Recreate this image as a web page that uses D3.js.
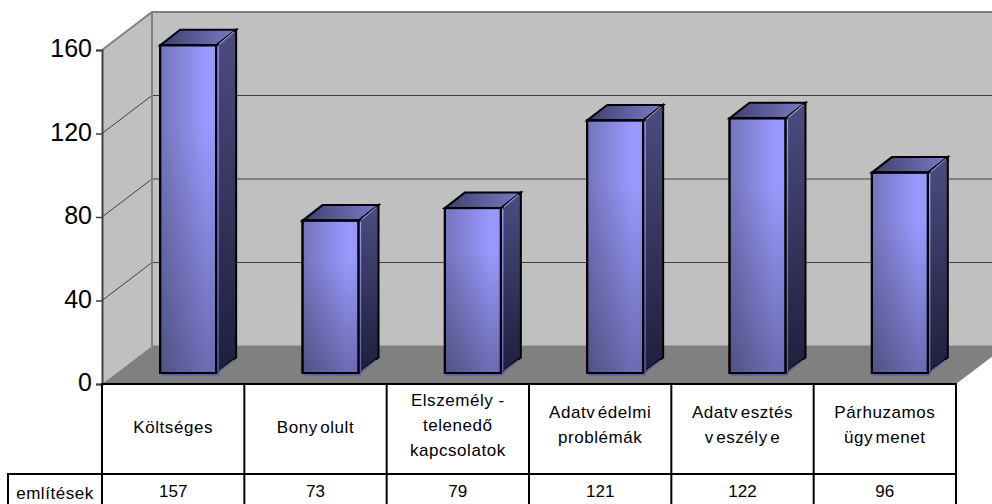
<!DOCTYPE html>
<html><head><meta charset="utf-8">
<script src="https://cdn.jsdelivr.net/npm/d3@7"></script>
<style>html,body{margin:0;padding:0;background:#fff}svg{display:block}text{font-family:"Liberation Sans",Arial,sans-serif;fill:#000}</style>
</head><body>
<svg id="c" width="992" height="504"></svg>
<script>
const categories = [
  ["Költséges"],
  ["Bonyolult"],
  ["Elszemély -", "telenedő", "kapcsolatok"],
  ["Adatvédelmi", "problémák"],
  ["Adatvesztés", "veszélye"],
  ["Párhuzamos", "ügymenet"]
];
const values = [157, 73, 79, 121, 122, 96];
const seriesName = "említések";
const yTicks = [0, 40, 80, 120, 160];

const svg = d3.select("#c");
const W = 992;
const x0 = 102, x1 = 956, y0 = 384, yTop = 50;
const depthX = 50, depthY = 38;
const x = d3.scaleBand().domain(d3.range(values.length)).range([x0, x1]);
const y = d3.scaleLinear().domain([0, 160]).range([y0, yTop]);
const pts = p => p.map(d => d.join(",")).join(" ");
const defs = svg.append("defs");

function grad(id, stops, x2, y2) {
  const g = defs.append("linearGradient").attr("id", id)
    .attr("x1", 0).attr("y1", 0).attr("x2", x2).attr("y2", y2);
  stops.forEach(s => g.append("stop").attr("offset", s[0]).attr("stop-color", s[1]).attr("stop-opacity", s[2] === undefined ? 1 : s[2]));
}
grad("front", [[0, "#7474bb"], [0.82, "#9999ff"], [1, "#9696fa"]], 1, 0);
grad("shade", [[0, "#000", 0], [0.25, "#000", 0], [1, "#000", 0.3]], 0, 1);
grad("side", [[0, "#4c4c80"], [1, "#1e1e3c"]], 0, 1);
grad("top", [[0, "#3f3f6c"], [1, "#7b7bc8"]], 1, 0);
grad("rim", [[0, "#9999ff"], [1, "#5c5cb0"]], 0, 1);
defs.append("clipPath").attr("id", "view").append("rect").attr("width", W).attr("height", 504);

const plot = svg.append("g").attr("clip-path", "url(#view)");

// walls and floor
plot.append("polygon").attr("fill", "#c0c0c0")
  .attr("points", pts([[x0, y(160)], [x0 + depthX, y(160) - depthY], [W, y(160) - depthY], [W, y0 - depthY], [x0 + depthX, y0 - depthY], [x0, y0]]));
plot.append("polygon").attr("fill", "#808080")
  .attr("points", pts([[x0, y0], [x0 + depthX, y0 - depthY], [x1 + depthX, y0 - depthY], [x1, y0]]));

// grid
yTicks.slice(1, -1).forEach(t => {
  plot.append("polyline").attr("fill", "none").attr("stroke", "#404040").attr("stroke-width", 1)
    .attr("points", pts([[x0, y(t)], [x0 + depthX, y(t) - depthY], [W, y(t) - depthY]]));
});
plot.append("polyline").attr("fill", "none").attr("stroke", "#808080").attr("stroke-width", 2)
  .attr("points", pts([[x0, y(160)], [x0 + depthX, y(160) - depthY], [W, y(160) - depthY]]));
plot.append("line").attr("stroke", "#808080").attr("stroke-width", 2)
  .attr("x1", x0 + depthX).attr("x2", x0 + depthX).attr("y1", y(160) - depthY).attr("y2", y0 - depthY);
plot.append("line").attr("stroke", "#808080").attr("stroke-width", 1)
  .attr("x1", x0 + depthX).attr("x2", W).attr("y1", y0 - depthY).attr("y2", y0 - depthY);

// bars
const barW = 56, offX = 15, offY = 11, sideX = 20, sideY = 15.5;
const bars = plot.selectAll("g.bar").data(values).join("g").attr("class", "bar");
const bx = (d, i) => x(i) + x.bandwidth() / 2 - barW / 2 + offX;
const yB = d => y(d) - offY;
const stroke = (s) => s.attr("stroke", "#000").attr("stroke-width", 2).attr("stroke-linejoin", "miter");
bars.append("polygon").attr("fill", "url(#side)").call(stroke)
  .attr("points", (d, i) => { const l = bx(d, i) + barW; return pts([[l, yB(d)], [l + sideX, yB(d) - sideY], [l + sideX, yB(0) - sideY], [l, yB(0)]]); });
bars.append("polygon").attr("fill", "url(#top)").call(stroke)
  .attr("points", (d, i) => { const l = bx(d, i); return pts([[l, yB(d)], [l + sideX, yB(d) - sideY], [l + barW + sideX, yB(d) - sideY], [l + barW, yB(d)]]); });
// light rim just inside the top face and the side face
bars.append("polyline").attr("fill", "none").attr("stroke", "#9a9ad8").attr("stroke-width", 1.2)
  .attr("points", (d, i) => { const l = bx(d, i) + barW; return pts([[l + 3, yB(d) - 1], [l + sideX - 2, yB(d) - sideY + 2]]); });
bars.append("polyline").attr("fill", "none").attr("stroke", "#6a6ab0").attr("stroke-width", 1.2)
  .attr("points", (d, i) => { const l = bx(d, i) + barW; return pts([[l + 3, yB(0) - 2], [l + sideX - 2, yB(0) - sideY + 2.5]]); });
// light rim right of and below the front face
bars.append("rect").attr("fill", "url(#rim)")
  .attr("x", (d, i) => bx(d, i) + 1).attr("y", d => yB(d) + 1)
  .attr("width", barW + 1.6).attr("height", d => yB(0) - yB(d) + 1.6);
bars.append("rect").attr("fill", "url(#front)").call(stroke)
  .attr("x", bx).attr("y", yB).attr("width", barW).attr("height", d => yB(0) - yB(d));
bars.append("rect").attr("fill", "url(#shade)")
  .attr("x", bx).attr("y", yB).attr("width", barW).attr("height", d => yB(0) - yB(d));
bars.append("rect").attr("fill", "none").call(stroke)
  .attr("x", bx).attr("y", yB).attr("width", barW).attr("height", d => yB(0) - yB(d));

// y axis
const axis = d3.axisLeft(y).tickValues(yTicks).tickSize(6).tickPadding(4);
const ga = svg.append("g").attr("transform", `translate(${x0},0)`).call(axis);
ga.select(".domain").attr("stroke", "#404040").attr("stroke-width", 2);
ga.selectAll(".tick line").attr("stroke", "#404040").attr("stroke-width", 1.5);
ga.selectAll(".tick text").style("font-family", '"Liberation Sans",Arial,sans-serif').attr("font-size", 25).attr("dy", "0.27em").attr("fill", "#000");

// data table
const tTop = y0, tMid = 474, tBot = 504, tLeft = 8;
const tbl = svg.append("g").attr("stroke", "#000").attr("stroke-width", 2).attr("fill", "none");
const hl = (a, b, yy) => tbl.append("line").attr("x1", a).attr("x2", b).attr("y1", yy).attr("y2", yy);
const vl = (xx, a, b) => tbl.append("line").attr("x1", xx).attr("x2", xx).attr("y1", a).attr("y2", b);
hl(x0 - 1, x1 + 1, tTop);
hl(tLeft - 1, x1 + 1, tMid);
vl(tLeft, tMid, tBot);
d3.range(values.length + 1).forEach(i => vl(i < values.length ? x(i) : x1, tTop, tBot));

const FS = 17, LS = 0.55;
function gappy(sel, str) {
  str.split(/(?<=[yv])(?=[^ ])/).forEach((part, k) => sel.append("tspan").attr("dx", k ? 2.5 : null).text(part));
}
categories.forEach((lines, i) => {
  const cx = x(i) + x.bandwidth() / 2, lh = 25;
  lines.forEach((ln, k) => {
    const t = svg.append("text").attr("x", cx).attr("text-anchor", "middle").attr("font-size", FS).attr("letter-spacing", LS)
      .attr("y", (tTop + tMid) / 2 + (lines.length === 1 ? 4 : 1.5) + (k - (lines.length - 1) / 2) * lh);
    gappy(t, ln);
  });
  svg.append("text").attr("x", cx).attr("y", 497).attr("text-anchor", "middle").attr("font-size", FS).text(values[i]);
});
svg.append("text").attr("x", (tLeft + x0) / 2).attr("y", 499).attr("text-anchor", "middle").attr("font-size", FS).attr("letter-spacing", LS).text(seriesName);
</script>
</body></html>
